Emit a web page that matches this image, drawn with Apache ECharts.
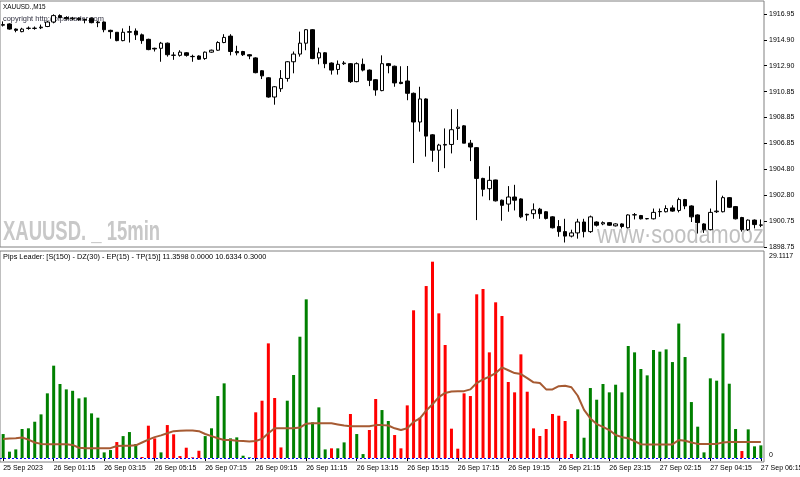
<!DOCTYPE html>
<html>
<head>
<meta charset="utf-8">
<script src="https://cdn.jsdelivr.net/npm/echarts@6/dist/echarts.min.js"></script>
<style>
html, body { margin: 0; padding: 0; background: #fff; }
#chart { width: 800px; height: 477px; }
</style>
</head>
<body>
<div id="chart"></div>
<script>
const FONT = '"Liberation Sans", Arial, sans-serif'
const priceBase = 1898.75

// bottom axis tick labels, one every 8 bars
const timeLabels = ['25 Sep 2023', '26 Sep 01:15', '26 Sep 03:15', '26 Sep 05:15', '26 Sep 07:15',
  '26 Sep 09:15', '26 Sep 11:15', '26 Sep 13:15', '26 Sep 15:15', '26 Sep 17:15', '26 Sep 19:15',
  '26 Sep 21:15', '26 Sep 23:15', '27 Sep 02:15', '27 Sep 04:15', '27 Sep 06:15']

// XAUUSD M15 candles
const opens = [1916.05, 1916.15, 1915.75, 1915.55, 1915.8, 1915.8, 1915.85, 1915.95, 1916.3, 1916.8,
  1916.65, 1916.55, 1916.6, 1916.5, 1916.6, 1916.25, 1916.3, 1915.65, 1915.5, 1914.85,
  1915.5, 1915.6, 1915.3, 1914.95, 1914.25, 1914.25, 1914.65, 1913.7, 1913.7, 1913.9,
  1913.6, 1913.65, 1913.45, 1913.95, 1914.1, 1914.7, 1915.2, 1914.0, 1914.0, 1913.75,
  1913.5, 1912.5, 1911.95, 1910.45, 1911.1, 1911.9, 1913.2, 1913.8, 1914.65, 1915.7,
  1913.5, 1913.9, 1913.1, 1912.6, 1913.05, 1913.05, 1911.65, 1913.0, 1912.55, 1911.8,
  1910.95, 1913.05, 1912.85, 1911.6, 1911.7, 1910.74, 1908.5, 1910.3, 1907.5, 1906.3,
  1906.7, 1906.75, 1908.0, 1908.2, 1906.85, 1906.5, 1904.1, 1903.3, 1903.98, 1902.4,
  1902.1, 1902.65, 1902.5, 1901.3, 1901.35, 1901.7, 1901.5, 1901.1, 1900.35, 1899.95,
  1899.6, 1899.85, 1900.7, 1899.95, 1900.7, 1900.55, 1900.65, 1900.4, 1900.55, 1900.25,
  1901.25, 1901.2, 1900.95, 1900.95, 1901.5, 1901.5, 1901.8, 1901.6, 1902.45, 1901.95,
  1901.25, 1900.55, 1900.1, 1901.5, 1901.5, 1902.6, 1901.9, 1901.05, 1900.1, 1900.85,
  1900.45]
const highs = [1916.35, 1916.2, 1915.8, 1915.85, 1915.95, 1915.95, 1916.1, 1916.4, 1916.9, 1916.9,
  1916.75, 1916.7, 1916.65, 1916.55, 1916.65, 1916.4, 1916.35, 1915.7, 1915.5, 1915.8,
  1916.0, 1915.8, 1915.4, 1915.0, 1914.3, 1914.75, 1914.7, 1913.95, 1914.1, 1913.95,
  1913.75, 1913.7, 1914.0, 1914.15, 1914.8, 1915.35, 1915.35, 1914.45, 1914.05, 1913.8,
  1913.55, 1912.55, 1912.0, 1911.3, 1912.55, 1913.25, 1914.0, 1915.55, 1915.75, 1915.75,
  1914.3, 1913.95, 1913.15, 1913.3, 1913.25, 1913.1, 1913.15, 1913.45, 1912.6, 1911.85,
  1913.7, 1913.1, 1912.9, 1912.85, 1912.87, 1910.8, 1911.25, 1910.35, 1907.55, 1906.8,
  1908.0, 1909.5, 1909.5, 1908.25, 1907.1, 1906.55, 1904.15, 1905.05, 1904.0, 1902.45,
  1903.5, 1903.6, 1902.55, 1901.35, 1902.15, 1901.8, 1901.55, 1901.15, 1900.85, 1900.95,
  1900.1, 1900.95, 1900.95, 1901.2, 1900.75, 1900.75, 1900.7, 1900.6, 1900.6, 1901.3,
  1901.4, 1901.25, 1901.0, 1901.75, 1901.75, 1902.0, 1902.0, 1902.6, 1902.5, 1902.0,
  1901.3, 1900.6, 1901.75, 1903.95, 1902.75, 1902.65, 1901.95, 1901.1, 1900.9, 1900.9,
  1900.9]
const lows = [1915.95, 1915.7, 1915.5, 1915.5, 1915.7, 1915.7, 1915.75, 1915.9, 1916.2, 1916.6,
  1916.5, 1916.45, 1916.4, 1916.2, 1916.2, 1915.9, 1915.5, 1915.0, 1914.8, 1914.8,
  1914.7, 1914.9, 1914.6, 1914.1, 1914.0, 1913.2, 1913.6, 1913.35, 1913.6, 1913.6,
  1913.2, 1913.35, 1913.35, 1913.9, 1914.05, 1914.65, 1913.7, 1913.7, 1913.65, 1913.4,
  1912.3, 1911.85, 1910.4, 1909.85, 1910.85, 1911.65, 1912.3, 1913.6, 1914.1, 1913.4,
  1913.0, 1912.7, 1912.2, 1912.2, 1912.95, 1911.55, 1911.6, 1912.45, 1911.3, 1910.55,
  1910.9, 1912.3, 1911.25, 1911.45, 1910.2, 1905.3, 1907.75, 1905.8, 1905.4, 1904.6,
  1904.9, 1906.05, 1907.1, 1906.85, 1905.45, 1900.85, 1902.7, 1902.4, 1902.3, 1900.8,
  1901.5, 1901.6, 1901.0, 1900.8, 1900.95, 1900.95, 1900.9, 1900.2, 1899.55, 1899.1,
  1899.5, 1899.4, 1899.5, 1899.85, 1900.35, 1900.45, 1900.4, 1900.35, 1900.2, 1900.2,
  1900.9, 1900.9, 1900.9, 1900.9, 1901.1, 1901.45, 1901.5, 1901.45, 1901.7, 1900.7,
  1899.8, 1899.85, 1900.05, 1901.4, 1901.45, 1901.8, 1900.9, 1899.95, 1900.0, 1900.2,
  1900.3]
const closes = [1916.1, 1915.75, 1915.65, 1915.75, 1915.82, 1915.82, 1915.9, 1916.3, 1916.8, 1916.65,
  1916.55, 1916.6, 1916.5, 1916.45, 1916.25, 1916.3, 1915.7, 1915.55, 1914.85, 1915.5,
  1915.55, 1915.3, 1914.85, 1914.15, 1914.2, 1914.65, 1913.75, 1913.72, 1913.95, 1913.7,
  1913.62, 1913.4, 1913.95, 1914.1, 1914.7, 1915.1, 1914.0, 1913.9, 1913.75, 1913.65,
  1912.35, 1912.1, 1910.45, 1911.25, 1911.9, 1913.2, 1913.8, 1914.65, 1915.7, 1913.45,
  1913.9, 1913.05, 1912.55, 1913.0, 1913.1, 1911.65, 1913.05, 1912.55, 1911.75, 1911.0,
  1913.05, 1912.9, 1911.55, 1911.5, 1910.74, 1908.5, 1910.3, 1907.4, 1906.3, 1906.7,
  1906.75, 1907.9, 1908.1, 1906.85, 1906.55, 1904.1, 1903.25, 1903.95, 1902.35, 1902.0,
  1902.65, 1902.4, 1901.1, 1901.25, 1901.65, 1901.35, 1900.98, 1900.25, 1899.95, 1899.6,
  1899.85, 1900.7, 1899.95, 1901.1, 1900.45, 1900.65, 1900.45, 1900.55, 1900.35, 1901.25,
  1901.27, 1900.95, 1900.97, 1901.45, 1901.52, 1901.75, 1901.55, 1902.45, 1901.95, 1901.1,
  1900.65, 1900.1, 1901.45, 1901.55, 1902.6, 1901.85, 1900.95, 1900.1, 1900.85, 1900.5,
  1900.47]

// Pips Leader histogram (G = buy, R = sell) and its average line
const pipsValues = [3.39, 0.9, 1.22, 4.1, 4.2, 5.13, 6.17, 9.14, 13.05, 10.46,
  9.7, 9.5, 8.43, 8.57, 6.31, 5.7, 0.8, 1.13, 2.26, 3.1,
  3.67, 1.98, 0.15, 4.57, 2.78, 0.8, 4.66, 3.35, 0.28, 1.46,
  0.1, 1.03, 3.1, 4.2, 8.76, 10.55, 2.78, 2.92, 0.33, 0.1,
  6.46, 8.1, 16.2, 8.48, 1.5, 8.1, 11.73, 17.14, 22.42, 5.04,
  7.16, 1.22, 1.37, 1.37, 2.21, 6.22, 3.39, 0.56, 3.96, 8.34,
  6.78, 5.23, 3.25, 1.37, 7.44, 20.87, 5.7, 24.3, 27.74, 20.44,
  15.97, 4.15, 1.32, 9.14, 8.76, 23.13, 23.88, 14.93, 22.0, 20.07,
  10.74, 9.28, 14.65, 9.37, 4.19, 3.11, 4.1, 6.22, 5.98, 5.23,
  0.57, 6.88, 2.87, 9.89, 8.24, 10.46, 9.28, 10.36, 9.28, 15.83,
  14.93, 12.58, 11.68, 15.26, 15.03, 15.35, 13.56, 19.0, 14.27, 7.91,
  4.43, 0.8, 11.26, 10.93, 17.61, 10.5, 4.1, 0.99, 4.05, 1.65,
  1.79]
const pipsDirs = ['G', 'G', 'G', 'G', 'G', 'G', 'G', 'G', 'G', 'G',
  'G', 'G', 'G', 'G', 'G', 'G', 'G', 'G', 'R', 'G',
  'G', 'G', 'R', 'R', 'R', 'G', 'R', 'R', 'R', 'R',
  'R', 'R', 'G', 'G', 'G', 'G', 'G', 'G', 'G', 'G',
  'R', 'R', 'R', 'R', 'R', 'G', 'G', 'G', 'G', 'G',
  'G', 'G', 'R', 'G', 'G', 'R', 'G', 'G', 'R', 'R',
  'G', 'G', 'R', 'R', 'R', 'R', 'R', 'R', 'R', 'R',
  'R', 'R', 'R', 'R', 'R', 'R', 'R', 'R', 'R', 'R',
  'R', 'R', 'R', 'R', 'R', 'R', 'R', 'R', 'R', 'R',
  'R', 'G', 'G', 'G', 'G', 'G', 'G', 'G', 'G', 'G',
  'G', 'G', 'G', 'G', 'G', 'G', 'G', 'G', 'G', 'G',
  'G', 'G', 'G', 'G', 'G', 'G', 'G', 'R', 'G', 'G',
  'G']
const pipsAverage = [2.7, 2.75, 2.8, 2.9, 2.6, 2.2, 2.0, 1.95, 1.95, 1.95,
  1.95, 1.85, 1.45, 1.4, 1.4, 1.4, 1.4, 1.4, 1.7, 1.75,
  1.75, 1.8, 2.2, 2.6, 2.95, 3.2, 3.5, 3.8, 3.85, 3.9,
  3.9, 3.8, 3.4, 3.1, 2.8, 2.55, 2.55, 2.45, 2.4, 2.35,
  2.4, 2.7, 3.5, 4.2, 4.2, 4.2, 4.2, 4.3, 4.85, 4.9,
  4.9, 4.9, 4.9, 4.75, 4.6, 4.5, 4.5, 4.5, 4.5, 4.65,
  4.65, 4.6, 4.2, 3.95, 4.2, 5.1, 5.6, 6.7, 7.6, 8.6,
  9.2, 9.4, 9.45, 9.45, 9.7, 10.6, 11.1, 11.5, 12.0, 12.8,
  12.4, 12.0, 11.86, 11.3, 10.7, 10.6, 9.7, 9.7, 10.15, 10.2,
  10.0, 8.8, 6.8, 5.6, 4.8, 4.4, 3.95, 3.25, 2.95, 2.8,
  2.4, 1.95, 1.93, 1.93, 1.93, 1.93, 1.93, 2.55, 2.45, 2.2,
  2.0, 2.0, 2.0, 2.0, 2.2, 2.25, 2.25, 2.25, 2.25, 2.25,
  2.25]
const pipsMax = 29.1117

const categories = opens.map((_, i) => (i % 8 === 0 ? timeLabels[i / 8] : ''))
const everyEighth = (i) => i % 8 === 0
// the lower scale steps so that both 0 and the maximum land on a tick
const pipsStep = pipsMax / 52

const chart = echarts.init(document.getElementById('chart'))

chart.setOption({
  animation: false,
  backgroundColor: '#fff',
  grid: [
    { left: 0, right: 36, top: 1, height: 246, show: true, borderColor: '#808080', borderWidth: 1, outerBoundsMode: 'none' },
    { left: 0, right: 36, top: 251, height: 211, show: true, borderColor: '#808080', borderWidth: 1, outerBoundsMode: 'none' }
  ],
  xAxis: [
    { type: 'category', gridIndex: 0, data: categories, show: false },
    {
      type: 'category',
      gridIndex: 1,
      data: categories,
      axisLine: { show: false },
      axisTick: { show: true, alignWithLabel: true, interval: everyEighth, length: 3, lineStyle: { color: '#000' } },
      axisLabel: { interval: everyEighth, align: 'left', margin: 3, fontSize: 7, fontFamily: FONT, color: '#000' }
    }
  ],
  yAxis: [
    {
      type: 'value',
      gridIndex: 0,
      position: 'right',
      min: 0,
      max: 19.19,
      interval: 2.02,
      splitLine: { show: false },
      axisLine: { show: false },
      axisTick: { show: true, length: 3, lineStyle: { color: '#000' } },
      axisLabel: {
        showMaxLabel: false,
        margin: 5,
        fontSize: 7,
        fontFamily: FONT,
        color: '#000',
        formatter: (v) => (Math.round((priceBase + v) * 20) / 20).toFixed(2)
      }
    },
    {
      type: 'value',
      gridIndex: 1,
      position: 'right',
      min: -pipsStep,
      max: 29.25,
      interval: pipsStep,
      splitLine: { show: false },
      axisLine: { show: false },
      axisTick: { show: false },
      axisLabel: {
        showMinLabel: false,
        showMaxLabel: false,
        margin: 5,
        formatter: (v) => {
          if (Math.abs(v) < 1e-3) return '{b|0}'
          if (Math.abs(v - pipsMax) < 1e-3) return '{t|' + pipsMax.toFixed(4) + '}'
          return ''
        },
        rich: {
          t: { fontSize: 7, fontFamily: FONT, color: '#000', padding: [8, 0, 0, 0] },
          b: { fontSize: 7, fontFamily: FONT, color: '#000', padding: [0, 0, 5, 0] }
        }
      }
    }
  ],
  series: [
    {
      type: 'candlestick',
      xAxisIndex: 0,
      yAxisIndex: 0,
      barWidth: 4,
      data: opens.map((o, i) => [o - priceBase, closes[i] - priceBase, lows[i] - priceBase, highs[i] - priceBase]),
      itemStyle: {
        color: '#ffffff',
        color0: '#000000',
        borderColor: '#000000',
        borderColor0: '#000000',
        borderColorDoji: '#000000',
        borderWidth: 1
      }
    },
    {
      type: 'bar',
      xAxisIndex: 1,
      yAxisIndex: 1,
      barWidth: 3,
      data: pipsValues.map((v, i) => ({
        value: v,
        itemStyle: { color: pipsDirs[i] === 'G' ? '#008000' : '#ff0000' }
      })),
      markLine: {
        silent: true,
        symbol: 'none',
        label: { show: false },
        lineStyle: { color: '#0000ff', type: [2, 2], width: 1 },
        data: [{ yAxis: 0 }]
      }
    },
    {
      type: 'line',
      xAxisIndex: 1,
      yAxisIndex: 1,
      data: pipsAverage,
      symbol: 'none',
      lineStyle: { color: '#a65a32', width: 2 }
    }
  ],
  graphic: [
    { type: 'text', x: 3, y: 3, scaleX: 0.8, style: { text: 'XAUUSD.,M15', font: '8px ' + FONT, fill: '#000' } },
    { type: 'text', x: 3, y: 15, scaleX: 0.93, style: { text: 'copyright http://pipsleader.com', font: '8px ' + FONT, fill: '#303040' } },
    { type: 'text', x: 3, y: 218, scaleX: 0.66, style: { text: 'XAUUSD. _ 15min', font: 'bold 28px ' + FONT, fill: '#c8c8c8' } },
    { type: 'text', x: 597, y: 224, scaleX: 0.87, style: { text: 'www\u00b7soodamooz', font: '25px ' + FONT, fill: '#c0c0c0' } },
    { type: 'text', x: 3, y: 253, scaleX: 0.92, style: { text: 'Pips Leader: [S(150) - DZ(30) - EP(15) - TP(15)] 11.3598 0.0000 10.6334 0.3000', font: '8px ' + FONT, fill: '#000' } }
  ]
})
</script>
</body>
</html>
